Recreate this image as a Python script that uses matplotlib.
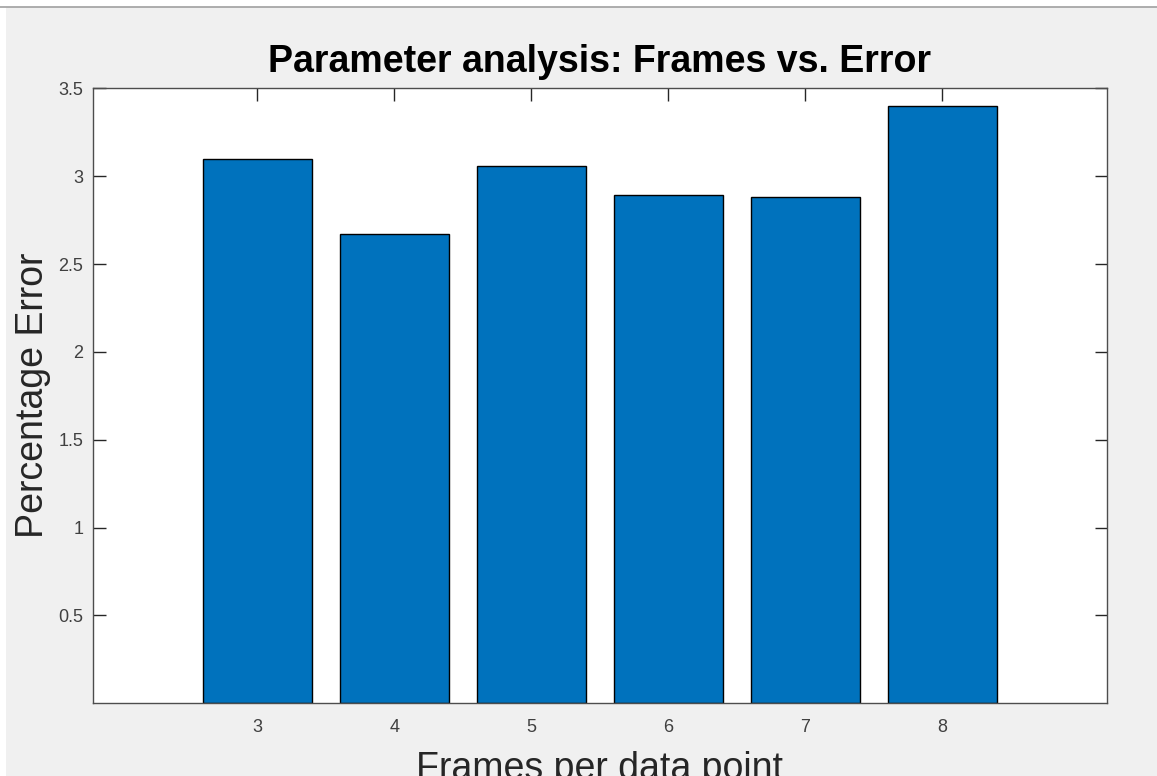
import matplotlib
matplotlib.use("Agg")
import matplotlib.pyplot as plt
from matplotlib.patches import Rectangle
from matplotlib.lines import Line2D

# data
frames = [3, 4, 5, 6, 7, 8]
pct_error = [3.10, 2.67, 3.06, 2.89, 2.88, 3.40]
y_ticks = [0.5, 1, 1.5, 2, 2.5, 3, 3.5]

plt.rcParams['font.family'] = ['Liberation Sans', 'DejaVu Sans']

W, H = 1157, 776
fig = plt.figure(figsize=(W / 100, H / 100), dpi=100)
fig.patch.set_facecolor('white')

# MATLAB-style grey window area with a thin border at the top
fig.patches.append(Rectangle((6 / W, 0), 1, (H - 7) / H, transform=fig.transFigure,
                             facecolor='#F0F0F0', edgecolor='none', zorder=-10))
fig.lines.append(Line2D([0, 1], [(H - 6.5) / H] * 2, transform=fig.transFigure,
                        color='#A0A0A0', linewidth=1.2))

ax = fig.add_axes([93 / W, (H - 703.3) / H, (1106.7 - 93) / W, (703.3 - 88.3) / H])
ax.set_facecolor('white')

ax.bar(frames, pct_error, width=0.8, color='#0072BD', edgecolor='black', linewidth=1.0, zorder=2)

ax.set_xlim(1.8, 9.2)
ax.set_ylim(0, 3.5)
ax.set_xticks(frames)
ax.set_xticklabels([str(f) for f in frames])
ax.set_yticks(y_ticks)
ax.set_yticklabels(['0.5', '1', '1.5', '2', '2.5', '3', '3.5'])

for s in ax.spines.values():
    s.set_color('#4D4D4D')
    s.set_linewidth(1.0)
    s.set_zorder(3)

ax.tick_params(direction='in', length=9, width=1.0, colors='#262626',
               labelsize=13, top=True, right=True, pad=7)
ax.tick_params(axis='x', pad=11)
for lbl in ax.get_xticklabels() + ax.get_yticklabels():
    lbl.set_color('#404040')

ax.set_title('Parameter analysis: Frames vs. Error', fontsize=27, fontweight='bold',
             color='black', pad=12)
ax.set_ylabel('Percentage Error', fontsize=27, color='#262626', labelpad=5)
ax.set_xlabel('Frames per data point', fontsize=27, color='#262626', labelpad=11)

fig.savefig('out.png', dpi=100, facecolor=fig.get_facecolor())
